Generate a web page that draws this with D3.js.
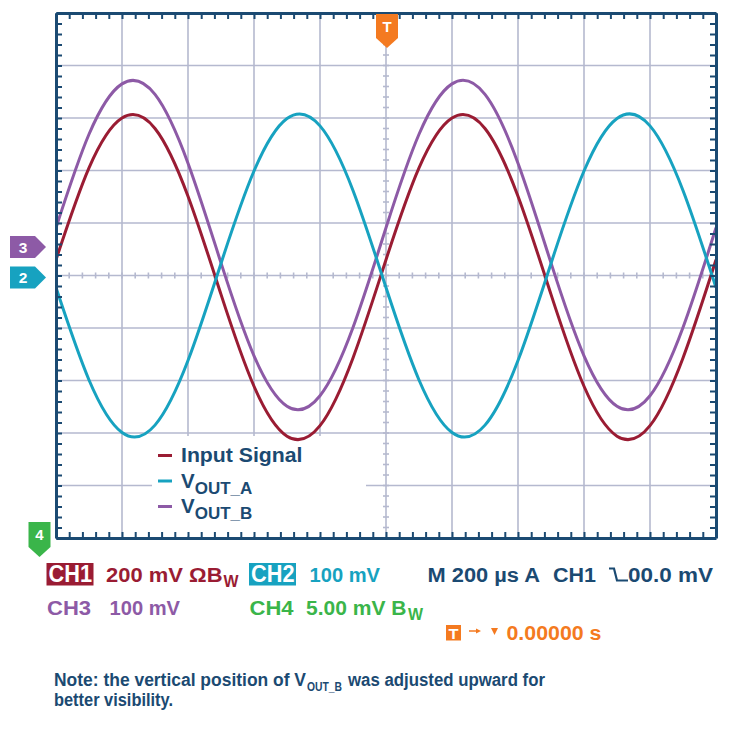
<!DOCTYPE html>
<html>
<head>
<meta charset="utf-8">
<script src="https://cdn.jsdelivr.net/npm/d3@7"></script>
<style>
  body { margin: 0; background: #fff; }
  svg text { font-family: "Liberation Sans", Arial, Helvetica, sans-serif; font-weight: bold; }
</style>
</head>
<body>
<div id="scope"></div>
<script>

// time base 200 us/div, 10 div across, trigger in the middle
const timeUs = [-1000, -900, -800, -700, -600, -500, -400, -300, -200, -100, 0,
                100, 200, 300, 400, 500, 600, 700, 800, 900, 1000];

// traces, in screen divisions from centre
const inputSignal = [0.30, 2.05, 3.00, 2.80, 1.51, -0.36, -2.11, -3.06, -2.86, -1.57, 0.30,
                     2.05, 3.00, 2.80, 1.51, -0.36, -2.11, -3.06, -2.86, -1.57, 0.30];
const voutA = [-0.23, -1.99, -2.99, -2.85, -1.62, 0.23, 1.99, 2.99, 2.85, 1.62, -0.23,
               -1.99, -2.99, -2.85, -1.62, 0.23, 1.99, 2.99, 2.85, 1.62, -0.23];
const voutB = [0.91, 2.69, 3.65, 3.45, 2.14, 0.24, -1.53, -2.49, -2.29, -0.99, 0.91,
               2.69, 3.65, 3.45, 2.14, 0.24, -1.53, -2.49, -2.29, -0.99, 0.91];

// legend labels: main text + subscript
const seriesNames = [["Input Signal", ""], ["V", "OUT_A"], ["V", "OUT_B"]];

// channel ground markers on the left edge (divisions)
const channelIds = ["3", "2"];
const channelLevels = [0.58, 0];
const triggerTime = 0;

const colors = {
    red: "#9a1c33", cyan: "#17a2c0", purple: "#8d5aa6",
    green: "#3ab54a", orange: "#f47a20", navy: "#1b4a72",
    grid: "#b5b9cf"
};

class ScopeShot {

    constructor(parentElement) {
        this._parentElement = parentElement;
        this.initVis();
    }

    initVis() {
        let vis = this;

        vis.margin = {top: 13, left: 56};
        vis.width = 660;
        vis.height = 525;

        vis.root = d3.select("#" + vis._parentElement).append("svg")
            .attr("width", 730)
            .attr("height", 733);

        vis.svg = vis.root.append("g")
            .attr("transform", "translate(" + vis.margin.left + "," + vis.margin.top + ")");

        vis.x = d3.scaleLinear().domain([-1000, 1000]).range([0, vis.width]);
        vis.y = d3.scaleLinear().domain([-5, 5]).range([vis.height, 0]);

        vis.root.append("defs").append("clipPath").attr("id", "plot-clip")
            .append("rect").attr("width", vis.width).attr("height", vis.height);

        vis.updateVis();
    }

    updateVis() {
        let vis = this;

        // grid
        vis.svg.selectAll(".vgrid")
            .data(d3.range(-800, 801, 200))
            .enter().append("line")
            .attr("x1", d => vis.x(d)).attr("x2", d => vis.x(d))
            .attr("y1", 0).attr("y2", vis.height)
            .attr("stroke", colors.grid).attr("stroke-width", 1.6);

        vis.svg.selectAll(".hgrid")
            .data(d3.range(-4, 5, 1))
            .enter().append("line")
            .attr("y1", d => vis.y(d)).attr("y2", d => vis.y(d))
            .attr("x1", 0).attr("x2", vis.width)
            .attr("stroke", colors.grid).attr("stroke-width", 1.6);

        // little ticks on the centre cross
        vis.svg.selectAll(".ctick-x")
            .data(d3.range(-1000, 1001, 40))
            .enter().append("line")
            .attr("x1", d => vis.x(d)).attr("x2", d => vis.x(d))
            .attr("y1", vis.y(0) - 3).attr("y2", vis.y(0) + 3)
            .attr("stroke", colors.grid).attr("stroke-width", 1.6);

        vis.svg.selectAll(".ctick-y")
            .data(d3.range(-25, 26).map(d => d / 5))
            .enter().append("line")
            .attr("y1", d => vis.y(d)).attr("y2", d => vis.y(d))
            .attr("x1", vis.x(0) - 3).attr("x2", vis.x(0) + 3)
            .attr("stroke", colors.grid).attr("stroke-width", 1.6);

        // legend sits on a white patch that hides the grid
        vis.svg.append("rect")
            .attr("x", 96).attr("y", 423)
            .attr("width", 214).attr("height", 100)
            .attr("fill", "#fff");

        // traces
        let line = d3.line()
            .x((d, i) => vis.x(timeUs[i]))
            .y(d => vis.y(d))
            .curve(d3.curveNatural);

        let traces = [[inputSignal, colors.red], [voutB, colors.purple], [voutA, colors.cyan]];
        vis.svg.append("g")
            .attr("clip-path", "url(#plot-clip)")
            .selectAll("path")
            .data(traces)
            .enter().append("path")
            .attr("d", d => line(d[0]))
            .attr("fill", "none")
            .attr("stroke", d => d[1])
            .attr("stroke-width", 3);

        // frame with inward ticks, 5 per division
        let minorT = d3.range(-1000, 1001, 40);
        let minorV = d3.range(-25, 26).map(d => d / 5);
        let axes = [
            [d3.axisTop(vis.x).tickValues(minorT), "translate(0,0)"],
            [d3.axisBottom(vis.x).tickValues(minorT), "translate(0," + vis.height + ")"],
            [d3.axisLeft(vis.y).tickValues(minorV), "translate(0,0)"],
            [d3.axisRight(vis.y).tickValues(minorV), "translate(" + vis.width + ",0)"]
        ];
        axes.forEach(a => {
            let g = vis.svg.append("g")
                .attr("transform", a[1])
                .call(a[0].tickSize(-6).tickSizeOuter(0).tickFormat(""));
            g.select(".domain").attr("stroke", colors.navy).attr("stroke-width", 3);
            g.selectAll(".tick line").attr("stroke", colors.navy).attr("stroke-width", 2);
        });

        // legend
        let legendColors = [colors.red, colors.cyan, colors.purple];
        let leg = vis.svg.append("g").attr("transform", "translate(102,449)");
        let rows = leg.selectAll("g")
            .data(seriesNames)
            .enter().append("g")
            .attr("transform", (d, i) => "translate(0," + (i * 25.5) + ")");
        rows.append("line")
            .attr("x1", 0).attr("x2", 14)
            .attr("y1", -6.5).attr("y2", -6.5)
            .attr("stroke", (d, i) => legendColors[i])
            .attr("stroke-width", 3);
        let lt = rows.append("text")
            .attr("x", 23)
            .attr("font-size", 20.5)
            .attr("fill", colors.navy);
        lt.append("tspan").text(d => d[0])
            .attr("textLength", d => d[1] ? null : 121.5)
            .attr("lengthAdjust", "spacingAndGlyphs");
        lt.append("tspan")
            .attr("font-size", 17)
            .attr("dy", 6)
            .text(d => d[1]);

        // channel markers on the left
        let chFill = {"3": colors.purple, "2": colors.cyan};
        channelIds.forEach((id, i) => {
            let cy = vis.margin.top + vis.y(channelLevels[i]) + 2;
            vis.root.append("path")
                .attr("d", "M10," + (cy - 11) + "H35L46," + cy + "L35," + (cy + 11) + "H10Z")
                .attr("fill", chFill[id]);
            vis.root.append("text")
                .attr("x", 23).attr("y", cy + 5.5)
                .attr("text-anchor", "middle")
                .attr("font-size", 15.5)
                .attr("fill", "#fff")
                .text(id);
        });

        // channel 4 is below the screen
        vis.root.append("path")
            .attr("d", "M28.5,522H50.5V547L39.5,557L28.5,547Z")
            .attr("fill", colors.green);
        vis.root.append("text")
            .attr("x", 39.5).attr("y", 539.5)
            .attr("text-anchor", "middle")
            .attr("font-size", 15)
            .attr("fill", "#fff")
            .text("4");

        // trigger marker
        let tx = vis.margin.left + vis.x(triggerTime) + 1;
        vis.root.append("path")
            .attr("d", "M" + (tx - 11) + ",14H" + (tx + 11) + "V38L" + tx + ",48L" + (tx - 11) + ",38Z")
            .attr("fill", colors.orange);
        vis.root.append("text")
            .attr("x", tx).attr("y", 32)
            .attr("text-anchor", "middle")
            .attr("font-size", 15)
            .attr("fill", "#fff")
            .text("T");

        vis.drawReadouts();
    }

    drawReadouts() {
        let vis = this;
        let r = vis.root;

        // text squeezed/stretched to the width it has on the screenshot
        function txt(x, y, s, fill, size, w) {
            let t = r.append("text")
                .attr("x", x).attr("y", y)
                .attr("font-size", size)
                .attr("fill", fill)
                .text(s);
            if (w) t.attr("textLength", w).attr("lengthAdjust", "spacingAndGlyphs");
            return t;
        }

        // row 1
        r.append("rect").attr("x", 46.5).attr("y", 563).attr("width", 47).attr("height", 22.5)
            .attr("fill", colors.red);
        txt(48.5, 582, "CH1", "#fff", 23.5, 43.5);
        txt(106, 581.5, "200 mV \u03A9B", colors.red, 20, 116.5);
        txt(223.5, 586.5, "W", colors.red, 16, 15);

        r.append("rect").attr("x", 249).attr("y", 563).attr("width", 47).attr("height", 22.5)
            .attr("fill", colors.cyan);
        txt(251, 582, "CH2", "#fff", 23.5, 43.5);
        txt(309.5, 581.5, "100 mV", colors.cyan, 20, 70.5);

        txt(427.5, 581.5, "M 200 \u00B5s A", colors.navy, 20, 112.5);
        txt(553, 581.5, "CH1", colors.navy, 20, 43);
        r.append("path")
            .attr("d", "M609,568.5H614L617,580.5H628")
            .attr("fill", "none")
            .attr("stroke", colors.navy)
            .attr("stroke-width", 2.2);
        txt(628, 581.5, "00.0 mV", colors.navy, 20, 85);

        // row 2
        txt(47, 614.5, "CH3", colors.purple, 20, 44);
        txt(109.5, 614.5, "100 mV", colors.purple, 20, 70.5);
        txt(249.5, 614.5, "CH4", colors.green, 20, 44);
        txt(306, 614.5, "5.00 mV B", colors.green, 20, 100.5);
        txt(408, 619.5, "W", colors.green, 16, 15);

        // row 3: trigger position
        r.append("rect").attr("x", 446).attr("y", 625).attr("width", 15).attr("height", 15.5)
            .attr("fill", colors.orange);
        txt(448.5, 638.5, "T", "#fff", 14, 10);
        r.append("line").attr("x1", 469).attr("x2", 477).attr("y1", 631).attr("y2", 631)
            .attr("stroke", colors.orange).attr("stroke-width", 1.5);
        r.append("path").attr("d", "M476,628.5L481,631L476,633.5Z").attr("fill", colors.orange);
        r.append("path").attr("d", "M491,628H498L494.5,635Z").attr("fill", colors.orange);
        txt(506.5, 640, "0.00000 s", colors.orange, 20, 95);

        // note under the chart
        txt(54, 686, "Note: the vertical position of V", colors.navy, 17.5, 252);
        txt(307, 691, "OUT_B", colors.navy, 13.5, 35);
        txt(348, 686, "was adjusted upward for", colors.navy, 17.5, 197);
        txt(54, 706, "better visibility.", colors.navy, 17.5, 119);
    }
}

new ScopeShot("scope");

</script>
</body>
</html>
